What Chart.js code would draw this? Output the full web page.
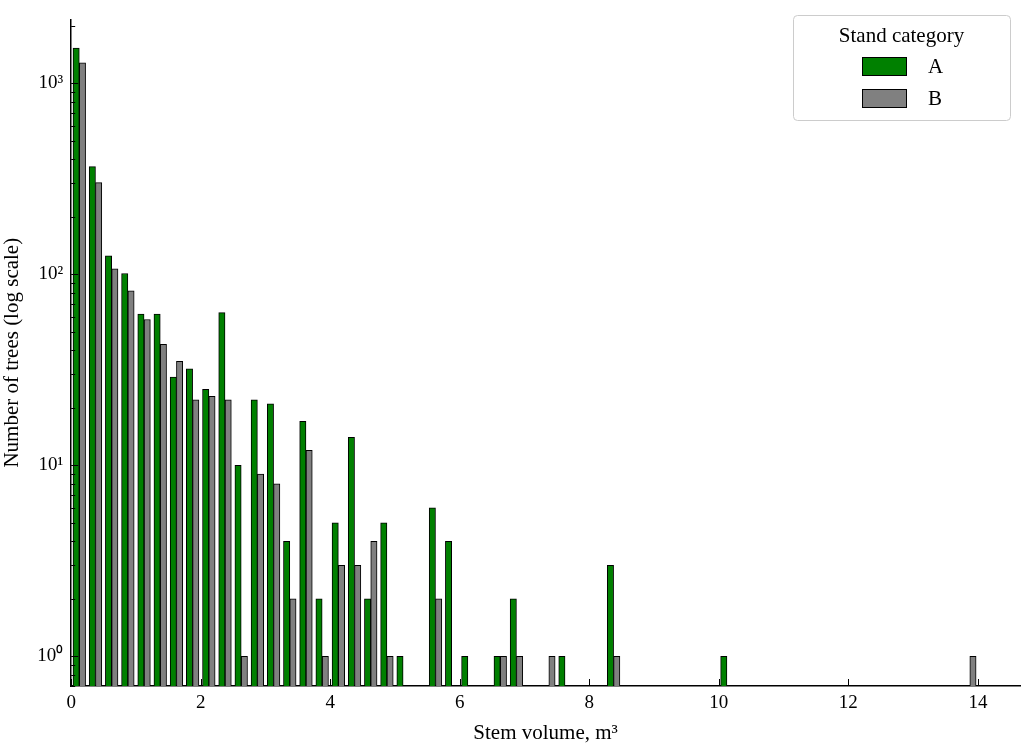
<!DOCTYPE html>
<html><head><meta charset="utf-8">
<script src="https://cdn.jsdelivr.net/npm/chart.js@4/dist/chart.umd.min.js"></script>
<style>html,body{margin:0;padding:0;background:#fff}#w{width:1024px;height:750px}</style>
</head><body><div id="w"><canvas id="c"></canvas></div>
<script>
const binWidth = 0.25;
const countsA = [1530,366,125,101,62,62,29,32,25,63,10,22,21,4,17,2,5,14,2,5,1,null,6,4,1,null,1,2,null,null,1,null,null,3,null,null,null,null,null,null,1,null,null,null,null,null,null,null,null,null,null,null,null,null,null,null];
const countsB = [1280,302,107,82,58,43,35,22,23,22,1,9,8,2,12,1,3,3,4,1,null,null,2,null,null,null,1,1,null,1,null,null,null,1,null,null,null,null,null,null,null,null,null,null,null,null,null,null,null,null,null,null,null,null,null,1];
const xTicks = [0,2,4,6,8,10,12,14];
const yTicks = [1,10,100,1000];
const yTickLabels = ['10⁰','10¹','10²','10³'];
const seriesNames = ['A','B'];
const colors = ['#008000','#808080'];

const centers = countsA.map((_,i)=>binWidth*i+binWidth/2);
const mk = arr => centers.map((x,i)=>({x, y: arr[i]}));
const F = 'Liberation Serif';

const inTicks = {
  id:'inTicks',
  afterDraw(ch){
    const ctx=ch.ctx, x=ch.scales.x, y=ch.scales.y, a=ch.chartArea;
    ctx.save(); ctx.strokeStyle='#000'; ctx.lineWidth=1;
    ctx.beginPath();
    xTicks.forEach(v=>{const p=Math.round(x.getPixelForValue(v))+0.5; ctx.moveTo(p,a.bottom); ctx.lineTo(p,a.bottom-7);});
    for(let d=-1; d<4; d++) for(let m=1;m<10;m++){
      const v=m*Math.pow(10,d); if(v<y.min||v>y.max) continue;
      const p=Math.round(y.getPixelForValue(v))+0.5; const L=m===1?7:4;
      ctx.moveTo(a.left,p); ctx.lineTo(a.left+L,p);
    }
    ctx.stroke();
    const lx=793, ly=15, lw=217, lh=105;
    ctx.fillStyle='#fff'; ctx.strokeStyle='#ccc';
    ctx.beginPath(); ctx.roundRect(lx+0.5,ly+0.5,lw,lh,4); ctx.fill(); ctx.stroke();
    ctx.fillStyle='#000'; ctx.font='21px "'+F+'"'; ctx.textAlign='center'; ctx.textBaseline='middle';
    ctx.fillText('Stand category', lx+lw/2, ly+21);
    seriesNames.forEach((n,i)=>{
      const yy=ly+51+i*32;
      ctx.fillStyle=colors[i]; ctx.fillRect(862,yy-9,44,18);
      ctx.strokeStyle='#000'; ctx.strokeRect(862.5,yy-8.5,44,18);
      ctx.fillStyle='#000'; ctx.textAlign='left'; ctx.fillText(n, 928, yy+1);
    });
    ctx.restore();
  }
};

new Chart(document.getElementById('c'),{
  type:'bar',
  data:{datasets: seriesNames.map((n,i)=>({label:n, data: mk(i===0?countsA:countsB), backgroundColor:colors[i], borderColor:'#000', borderWidth:1, barThickness:6.3}))},
  options:{
    responsive:true, maintainAspectRatio:false, animation:false,
    layout:{padding:{left:0,right:4,top:5,bottom:4}},
    plugins:{legend:{display:false}, tooltip:{enabled:false}},
    scales:{
      x:{type:'linear', offset:false, min:0, max:14.65, grid:{display:false, drawTicks:false, offset:false}, border:{color:'#000',width:1.5},
        afterBuildTicks: s=>{s.ticks=xTicks.map(v=>({value:v}));},
        ticks:{color:'#000', font:{family:F,size:19}, padding:6, autoSkip:false, maxRotation:0},
        title:{display:true, text:'Stem volume, m³', color:'#000', font:{family:F,size:21}, padding:{top:0,bottom:0}}},
      y:{type:'logarithmic', min:0.7, max:2160, grid:{display:false, drawTicks:false}, border:{color:'#000',width:1.5},
        afterBuildTicks: s=>{s.ticks=yTicks.map(v=>({value:v}));},
        ticks:{color:'#000', font:{family:F,size:19}, padding:8, callback:(v)=>{const i=yTicks.indexOf(v); return i>=0?yTickLabels[i]:'';}},
        title:{display:true, text:'Number of trees (log scale)', color:'#000', font:{family:F,size:21}, padding:{top:0,bottom:4}}}
    }
  },
  plugins:[inTicks]
});
</script></body></html>
